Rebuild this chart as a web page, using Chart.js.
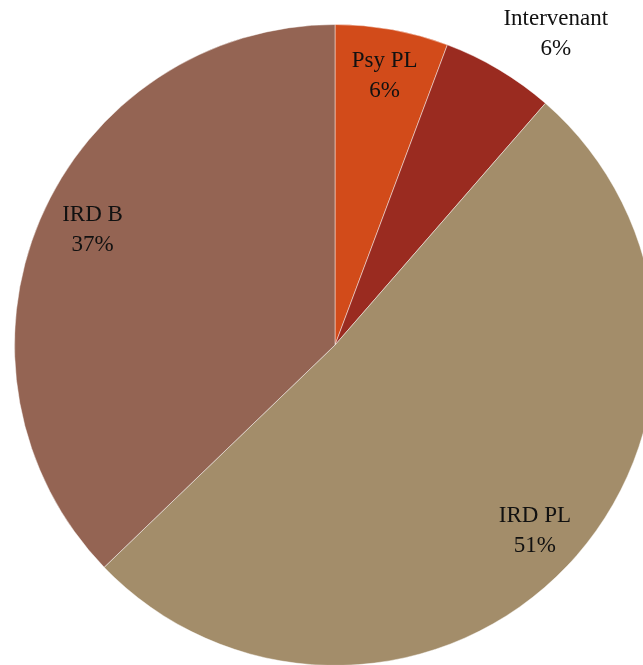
<!DOCTYPE html>
<html>
<head>
<meta charset="utf-8">
<script src="https://cdn.jsdelivr.net/npm/chart.js@4/dist/chart.umd.min.js"></script>
<style>
html,body{margin:0;padding:0;background:#fff;overflow:hidden;width:643px;height:665px;}
canvas{display:block;}
</style>
</head>
<body>
<canvas id="c" width="660" height="670"></canvas>
<script>
const categories = ["Psy PL", "Intervenant", "IRD PL", "IRD B"];
const values = [5.7, 5.7, 51.4, 37.2];
const colors = ["#D24B1A", "#9A2B20", "#A38D6A", "#946453"];

// label radius factors (relative to outer radius) for placing labels along the slice mid-angle
const labelRadius = [0.855, 1.19, 0.851, 0.837];
const labelAngleShift = [0.003, 0.08, -0.012, 0.04];

const labelPlugin = {
  id: 'sliceLabels',
  afterDatasetsDraw(chart) {
    const ctx = chart.ctx;
    const meta = chart.getDatasetMeta(0);
    const data = chart.data.datasets[0].data;
    const total = data.reduce((a, b) => a + b, 0);
    ctx.save();
    ctx.font = '23px "Liberation Serif", "DejaVu Serif", serif';
    ctx.fillStyle = '#111';
    ctx.textAlign = 'center';
    ctx.textBaseline = 'middle';
    meta.data.forEach((arc, i) => {
      const p = arc.getProps(['x', 'y', 'startAngle', 'endAngle', 'outerRadius'], true);
      const mid = (p.startAngle + p.endAngle) / 2 + labelAngleShift[i];
      const r = p.outerRadius * labelRadius[i];
      const x = p.x + Math.cos(mid) * r;
      const y = p.y + Math.sin(mid) * r;
      const pct = Math.round(data[i] / total * 100) + '%';
      ctx.fillText(chart.data.labels[i], x, y - 15);
      ctx.fillText(pct, x, y + 15);
    });
    ctx.restore();
  }
};

new Chart(document.getElementById('c'), {
  type: 'pie',
  data: {
    labels: categories,
    datasets: [{
      data: values,
      backgroundColor: colors,
      borderColor: 'rgba(255,255,255,0.45)',
      borderWidth: 1
    }]
  },
  options: {
    responsive: false,
    animation: false,
    layout: { padding: { left: 14, top: 24, right: 4, bottom: 4 } },
    plugins: {
      legend: { display: false },
      tooltip: { enabled: false }
    }
  },
  plugins: [labelPlugin]
});
</script>
</body>
</html>
